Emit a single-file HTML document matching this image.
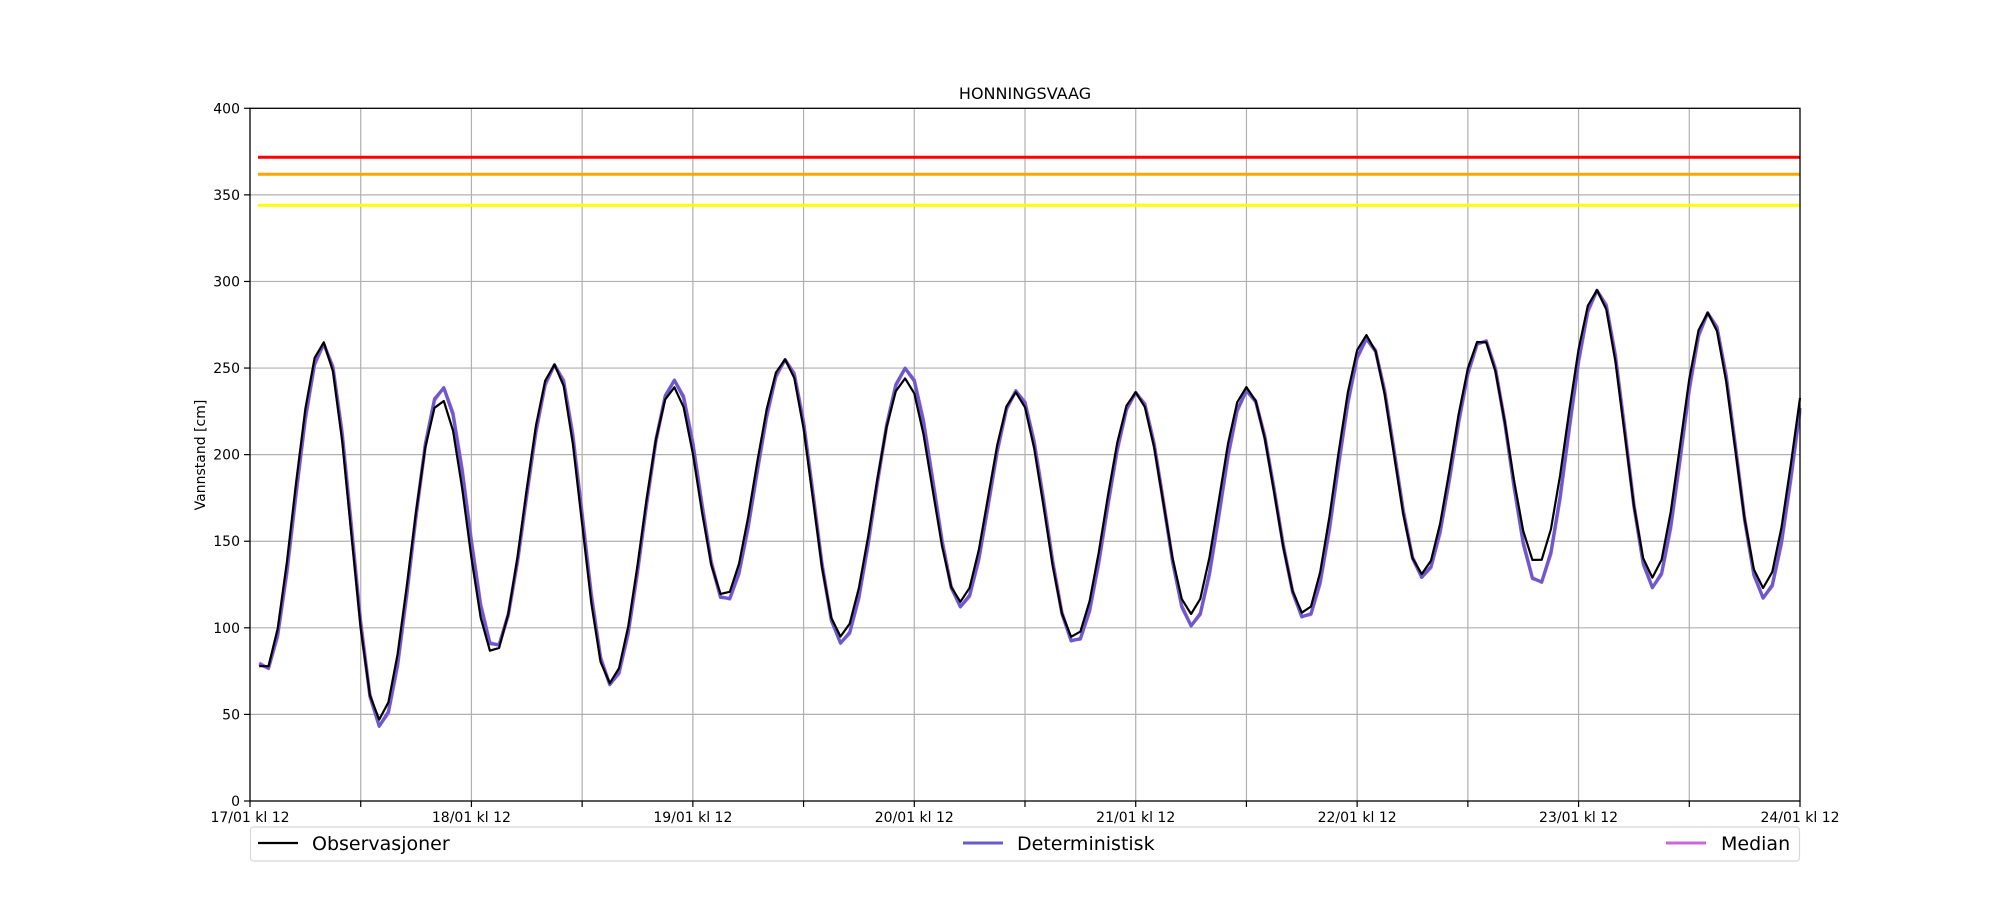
<!DOCTYPE html>
<html><head><meta charset="utf-8"><style>
html,body{margin:0;padding:0;background:#fff;}
svg{display:block;font-family:"DejaVu Sans","Liberation Sans",sans-serif;}
</style></head><body>
<svg id="s" width="2000" height="900" viewBox="0 0 2000 900" xmlns="http://www.w3.org/2000/svg">
<rect width="2000" height="900" fill="#fff"/>
<g id="grid" stroke="#b0b0b0" stroke-width="1.2"></g>
<line x1="258" x2="1800" y1="157.3" y2="157.3" stroke="#ff0000" stroke-width="3"/>
<line x1="258" x2="1800" y1="174.3" y2="174.3" stroke="#ffa500" stroke-width="3"/>
<line x1="258" x2="1800" y1="205.3" y2="205.3" stroke="#ffff00" stroke-width="3"/>
<polyline id="med" fill="none" stroke="#cc66dd" stroke-width="3.2" stroke-linejoin="round"/>
<polyline id="det" fill="none" stroke="#6a5acd" stroke-width="3.2" stroke-linejoin="round"/>
<polyline id="obs" fill="none" stroke="#000" stroke-width="2.2" stroke-linejoin="round"/>
<rect x="250" y="108.3" width="1550" height="692.7" fill="none" stroke="#000" stroke-width="1.3"/>
<g id="ticks" stroke="#000" stroke-width="1.2"></g>
<g id="lab" font-size="14" fill="#000"></g>
<text x="1025" y="99" font-size="16" text-anchor="middle">HONNINGSVAAG</text>
<text transform="translate(205,455) rotate(-90)" font-size="14" text-anchor="middle">Vannstand [cm]</text>
<rect x="250.5" y="827" width="1549" height="34" rx="3" fill="#fff" stroke="#d8d8d8" stroke-width="1.2"/>
<line x1="258" x2="298" y1="843" y2="843" stroke="#000" stroke-width="2.2"/>
<text x="312" y="850" font-size="19">Observasjoner</text>
<line x1="963" x2="1003" y1="843" y2="843" stroke="#6a5acd" stroke-width="3"/>
<text x="1017" y="850" font-size="19">Deterministisk</text>
<line x1="1666" x2="1706" y1="843" y2="843" stroke="#cc66dd" stroke-width="3"/>
<text x="1721" y="850" font-size="19">Median</text>
</svg>
<script>
var NS="http://www.w3.org/2000/svg";
function X(h){return 250+h*1550/168;}
function Y(v){return 801-v*1.7318;}
function el(p,t,a,txt){var e=document.createElementNS(NS,t);for(var k in a)e.setAttribute(k,a[k]);if(txt!==undefined)e.textContent=txt;document.getElementById(p).appendChild(e);}
for(var i=1;i<14;i++){el("grid","line",{x1:X(i*12),x2:X(i*12),y1:108,y2:801});}
for(var v=50;v<400;v+=50){el("grid","line",{x1:250,x2:1800,y1:Y(v),y2:Y(v)});}
for(var i=0;i<=14;i++){el("ticks","line",{x1:X(i*12),x2:X(i*12),y1:801,y2:807});}
for(var v=0;v<=400;v+=50){el("ticks","line",{x1:244,x2:250,y1:Y(v),y2:Y(v)});el("lab","text",{x:240,y:Y(v)+5,"text-anchor":"end"},String(v));}
for(var d=0;d<=7;d++){el("lab","text",{x:X(d*24),y:822,"text-anchor":"middle"},(17+d)+"/01 kl 12");}
var ob=[[1.5,75],[7.9,265],[14,47],[20.7,232],[26.4,85],[33,252],[39,68],[45.9,239],[51.4,118],[58,255],[64,95],[71,244],[77,115],[83,236],[89.3,94],[96,236],[102,108],[108,239],[114.3,108],[121,269],[127,131],[133.5,267],[139.5,137],[146,295],[152,129],[158,282],[164,123],[170.5,285]];
var dt=[[1.5,75],[7.9,264],[14,43],[20.7,239],[26.4,88],[33,252],[39,67],[45.9,243],[51.4,115],[58,255],[64,91],[71,250],[77,112],[83,237],[89.3,91],[96,236],[102,101],[108,237],[114.3,105],[121,267],[127,129],[133.5,267],[139.5,125],[146,295],[152,123],[158,282],[164,117],[170.5,285]];
function interp(ex,h){for(var i=0;i<ex.length-1;i++){var a=ex[i],b=ex[i+1];if(h<=b[0]||i==ex.length-2){var t=(h-a[0])/(b[0]-a[0]);t=Math.max(-0.2,Math.min(1,t));return a[1]+(b[1]-a[1])*(1-Math.cos(Math.PI*t))/2;}}}
function pts(ex,sh){var s=[];for(var h=1;h<=168;h++){s.push(X(h).toFixed(1)+","+Y(interp(ex,h+sh)).toFixed(1));}return s.join(" ");}
document.getElementById("obs").setAttribute("points",pts(ob,0));
document.getElementById("det").setAttribute("points",pts(dt,-0.1));
document.getElementById("med").setAttribute("points",pts(dt,-0.15));
</script>
</body></html>
